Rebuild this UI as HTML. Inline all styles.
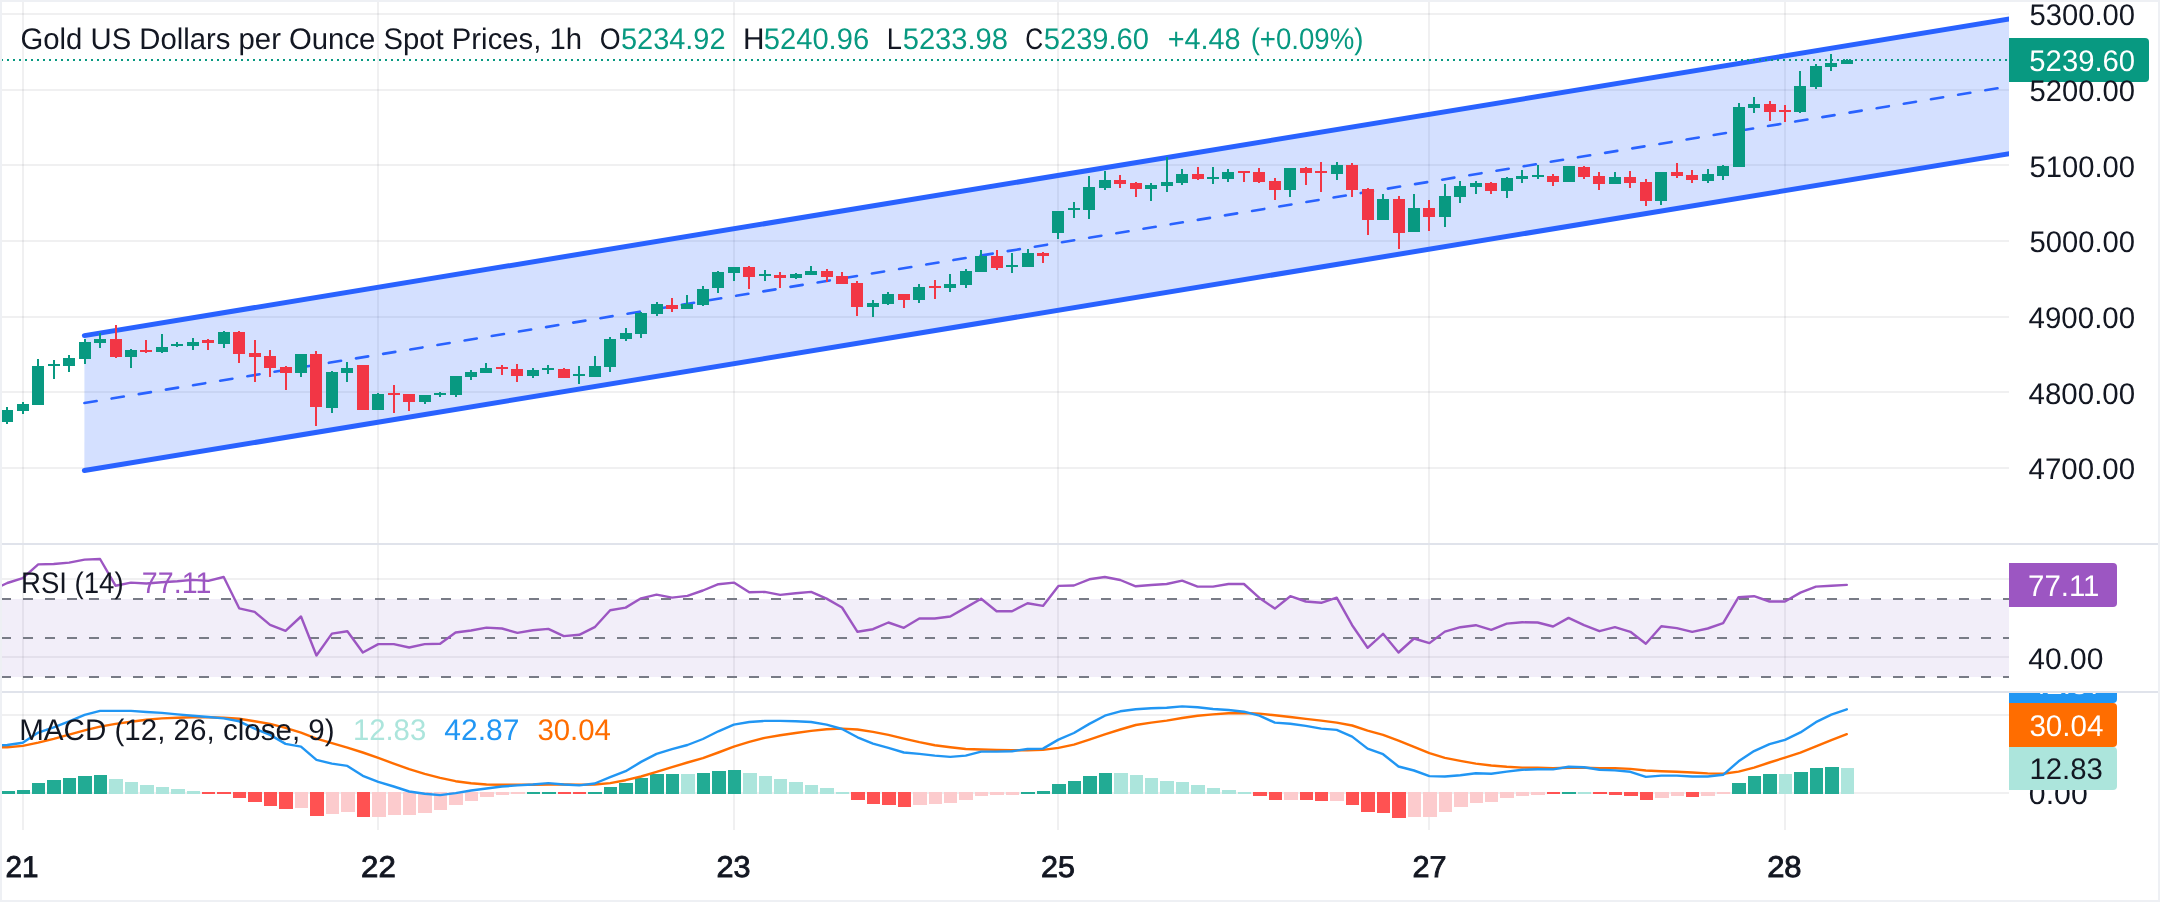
<!DOCTYPE html>
<html><head><meta charset="utf-8"><title>Gold Spot 1h</title>
<style>
html,body{margin:0;padding:0;background:#fff;width:2160px;height:902px;overflow:hidden}
svg{display:block;font-family:'Liberation Sans', sans-serif;will-change:transform;text-rendering:geometricPrecision}
</style></head>
<body>
<svg width="2160" height="902" viewBox="0 0 2160 902">
<rect x="0" y="0" width="2160" height="902" fill="#FFFFFF"/>
<rect x="2" y="13" width="2007" height="2" fill="rgba(42,46,57,0.07)"/>
<rect x="2" y="89" width="2007" height="2" fill="rgba(42,46,57,0.07)"/>
<rect x="2" y="164" width="2007" height="2" fill="rgba(42,46,57,0.07)"/>
<rect x="2" y="240" width="2007" height="2" fill="rgba(42,46,57,0.07)"/>
<rect x="2" y="316" width="2007" height="2" fill="rgba(42,46,57,0.07)"/>
<rect x="2" y="391" width="2007" height="2" fill="rgba(42,46,57,0.07)"/>
<rect x="2" y="467" width="2007" height="2" fill="rgba(42,46,57,0.07)"/>
<rect x="2" y="578" width="2007" height="2" fill="rgba(42,46,57,0.07)"/>
<rect x="2" y="656" width="2007" height="2" fill="rgba(42,46,57,0.07)"/>
<rect x="2" y="714" width="2007" height="2" fill="rgba(42,46,57,0.07)"/>
<rect x="2" y="792" width="2007" height="2" fill="rgba(42,46,57,0.07)"/>
<rect x="22" y="2" width="2" height="828" fill="rgba(42,46,57,0.07)"/>
<rect x="377" y="2" width="2" height="828" fill="rgba(42,46,57,0.07)"/>
<rect x="733" y="2" width="2" height="828" fill="rgba(42,46,57,0.07)"/>
<rect x="1057" y="2" width="2" height="828" fill="rgba(42,46,57,0.07)"/>
<rect x="1428" y="2" width="2" height="828" fill="rgba(42,46,57,0.07)"/>
<rect x="1784" y="2" width="2" height="828" fill="rgba(42,46,57,0.07)"/>
<polygon points="84.4,335.6 2009.0,19.0 2009.0,153.8 84.4,470.5" fill="rgba(41,98,255,0.2)"/>
<defs><clipPath id="cp"><rect x="0" y="2" width="2009" height="541"/></clipPath></defs>
<g clip-path="url(#cp)">
<line x1="84.4" y1="335.6" x2="2020" y2="17.19" stroke="#2962FF" stroke-width="5" stroke-linecap="round"/>
<line x1="84.4" y1="470.5" x2="2020" y2="151.99" stroke="#2962FF" stroke-width="5" stroke-linecap="round"/>
<line x1="84.4" y1="403.05" x2="2020" y2="84.59" stroke="#2962FF" stroke-width="2.6" stroke-linecap="round" stroke-dasharray="12.4 15.12"/>
</g>
<g shape-rendering="crispEdges">
<rect x="6" y="407" width="2" height="17" fill="#089981"/>
<rect x="1" y="410" width="12" height="12" fill="#089981"/>
<rect x="22" y="402" width="2" height="12" fill="#089981"/>
<rect x="17" y="404" width="12" height="7" fill="#089981"/>
<rect x="37" y="359" width="2" height="46" fill="#089981"/>
<rect x="32" y="366" width="12" height="39" fill="#089981"/>
<rect x="53" y="360" width="2" height="19" fill="#089981"/>
<rect x="48" y="364" width="12" height="2" fill="#089981"/>
<rect x="68" y="355" width="2" height="17" fill="#089981"/>
<rect x="63" y="358" width="12" height="8" fill="#089981"/>
<rect x="84" y="339" width="2" height="25" fill="#089981"/>
<rect x="79" y="342" width="12" height="17" fill="#089981"/>
<rect x="99" y="333" width="2" height="15" fill="#089981"/>
<rect x="94" y="339" width="12" height="4" fill="#089981"/>
<rect x="115" y="325" width="2" height="33" fill="#F23645"/>
<rect x="110" y="339" width="12" height="18" fill="#F23645"/>
<rect x="130" y="349" width="2" height="19" fill="#089981"/>
<rect x="125" y="350" width="12" height="7" fill="#089981"/>
<rect x="145" y="340" width="2" height="13" fill="#F23645"/>
<rect x="140" y="350" width="12" height="2" fill="#F23645"/>
<rect x="161" y="334" width="2" height="19" fill="#089981"/>
<rect x="156" y="347" width="12" height="5" fill="#089981"/>
<rect x="176" y="342" width="2" height="5" fill="#089981"/>
<rect x="171" y="344" width="12" height="2" fill="#089981"/>
<rect x="192" y="338" width="2" height="12" fill="#089981"/>
<rect x="187" y="342" width="12" height="4" fill="#089981"/>
<rect x="207" y="339" width="2" height="11" fill="#F23645"/>
<rect x="202" y="340" width="12" height="3" fill="#F23645"/>
<rect x="223" y="331" width="2" height="17" fill="#089981"/>
<rect x="218" y="332" width="12" height="12" fill="#089981"/>
<rect x="238" y="331" width="2" height="32" fill="#F23645"/>
<rect x="233" y="332" width="12" height="22" fill="#F23645"/>
<rect x="254" y="340" width="2" height="42" fill="#F23645"/>
<rect x="249" y="353" width="12" height="4" fill="#F23645"/>
<rect x="269" y="350" width="2" height="27" fill="#F23645"/>
<rect x="264" y="356" width="12" height="12" fill="#F23645"/>
<rect x="285" y="366" width="2" height="24" fill="#F23645"/>
<rect x="280" y="367" width="12" height="6" fill="#F23645"/>
<rect x="300" y="354" width="2" height="23" fill="#089981"/>
<rect x="295" y="354" width="12" height="19" fill="#089981"/>
<rect x="315" y="351" width="2" height="75" fill="#F23645"/>
<rect x="310" y="354" width="12" height="53" fill="#F23645"/>
<rect x="331" y="371" width="2" height="42" fill="#089981"/>
<rect x="326" y="372" width="12" height="36" fill="#089981"/>
<rect x="346" y="362" width="2" height="20" fill="#089981"/>
<rect x="341" y="368" width="12" height="5" fill="#089981"/>
<rect x="362" y="365" width="2" height="45" fill="#F23645"/>
<rect x="357" y="365" width="12" height="45" fill="#F23645"/>
<rect x="377" y="393" width="2" height="17" fill="#089981"/>
<rect x="372" y="394" width="12" height="16" fill="#089981"/>
<rect x="393" y="385" width="2" height="28" fill="#F23645"/>
<rect x="388" y="393" width="12" height="2" fill="#F23645"/>
<rect x="408" y="394" width="2" height="17" fill="#F23645"/>
<rect x="403" y="394" width="12" height="8" fill="#F23645"/>
<rect x="424" y="395" width="2" height="9" fill="#089981"/>
<rect x="419" y="395" width="12" height="7" fill="#089981"/>
<rect x="439" y="392" width="2" height="5" fill="#089981"/>
<rect x="434" y="393" width="12" height="2" fill="#089981"/>
<rect x="455" y="376" width="2" height="21" fill="#089981"/>
<rect x="450" y="376" width="12" height="19" fill="#089981"/>
<rect x="470" y="370" width="2" height="10" fill="#089981"/>
<rect x="465" y="372" width="12" height="5" fill="#089981"/>
<rect x="485" y="363" width="2" height="10" fill="#089981"/>
<rect x="480" y="368" width="12" height="5" fill="#089981"/>
<rect x="501" y="365" width="2" height="10" fill="#F23645"/>
<rect x="496" y="367" width="12" height="2" fill="#F23645"/>
<rect x="516" y="364" width="2" height="18" fill="#F23645"/>
<rect x="511" y="369" width="12" height="7" fill="#F23645"/>
<rect x="532" y="368" width="2" height="10" fill="#089981"/>
<rect x="527" y="370" width="12" height="6" fill="#089981"/>
<rect x="547" y="365" width="2" height="9" fill="#089981"/>
<rect x="542" y="368" width="12" height="2" fill="#089981"/>
<rect x="563" y="368" width="2" height="10" fill="#F23645"/>
<rect x="558" y="369" width="12" height="9" fill="#F23645"/>
<rect x="578" y="366" width="2" height="18" fill="#089981"/>
<rect x="573" y="374" width="12" height="2" fill="#089981"/>
<rect x="594" y="356" width="2" height="21" fill="#089981"/>
<rect x="589" y="366" width="12" height="11" fill="#089981"/>
<rect x="609" y="337" width="2" height="35" fill="#089981"/>
<rect x="604" y="339" width="12" height="28" fill="#089981"/>
<rect x="625" y="328" width="2" height="13" fill="#089981"/>
<rect x="620" y="333" width="12" height="6" fill="#089981"/>
<rect x="640" y="312" width="2" height="26" fill="#089981"/>
<rect x="635" y="313" width="12" height="21" fill="#089981"/>
<rect x="656" y="302" width="2" height="14" fill="#089981"/>
<rect x="651" y="304" width="12" height="10" fill="#089981"/>
<rect x="671" y="298" width="2" height="14" fill="#F23645"/>
<rect x="666" y="305" width="12" height="4" fill="#F23645"/>
<rect x="686" y="295" width="2" height="14" fill="#089981"/>
<rect x="681" y="304" width="12" height="5" fill="#089981"/>
<rect x="702" y="286" width="2" height="20" fill="#089981"/>
<rect x="697" y="289" width="12" height="16" fill="#089981"/>
<rect x="717" y="271" width="2" height="22" fill="#089981"/>
<rect x="712" y="272" width="12" height="16" fill="#089981"/>
<rect x="733" y="267" width="2" height="14" fill="#089981"/>
<rect x="728" y="267" width="12" height="6" fill="#089981"/>
<rect x="748" y="266" width="2" height="23" fill="#F23645"/>
<rect x="743" y="267" width="12" height="10" fill="#F23645"/>
<rect x="764" y="270" width="2" height="11" fill="#089981"/>
<rect x="759" y="274" width="12" height="2" fill="#089981"/>
<rect x="779" y="272" width="2" height="16" fill="#F23645"/>
<rect x="774" y="275" width="12" height="3" fill="#F23645"/>
<rect x="795" y="273" width="2" height="6" fill="#089981"/>
<rect x="790" y="274" width="12" height="4" fill="#089981"/>
<rect x="810" y="266" width="2" height="9" fill="#089981"/>
<rect x="805" y="271" width="12" height="4" fill="#089981"/>
<rect x="826" y="269" width="2" height="13" fill="#F23645"/>
<rect x="821" y="271" width="12" height="6" fill="#F23645"/>
<rect x="841" y="272" width="2" height="12" fill="#F23645"/>
<rect x="836" y="276" width="12" height="8" fill="#F23645"/>
<rect x="856" y="281" width="2" height="35" fill="#F23645"/>
<rect x="851" y="283" width="12" height="24" fill="#F23645"/>
<rect x="872" y="300" width="2" height="17" fill="#089981"/>
<rect x="867" y="303" width="12" height="4" fill="#089981"/>
<rect x="887" y="292" width="2" height="13" fill="#089981"/>
<rect x="882" y="294" width="12" height="10" fill="#089981"/>
<rect x="903" y="294" width="2" height="14" fill="#F23645"/>
<rect x="898" y="294" width="12" height="6" fill="#F23645"/>
<rect x="918" y="284" width="2" height="19" fill="#089981"/>
<rect x="913" y="287" width="12" height="13" fill="#089981"/>
<rect x="934" y="280" width="2" height="19" fill="#F23645"/>
<rect x="929" y="286" width="12" height="2" fill="#F23645"/>
<rect x="949" y="274" width="2" height="18" fill="#089981"/>
<rect x="944" y="284" width="12" height="4" fill="#089981"/>
<rect x="965" y="269" width="2" height="19" fill="#089981"/>
<rect x="960" y="271" width="12" height="14" fill="#089981"/>
<rect x="980" y="250" width="2" height="22" fill="#089981"/>
<rect x="975" y="256" width="12" height="16" fill="#089981"/>
<rect x="996" y="250" width="2" height="20" fill="#F23645"/>
<rect x="991" y="256" width="12" height="12" fill="#F23645"/>
<rect x="1011" y="253" width="2" height="20" fill="#089981"/>
<rect x="1006" y="265" width="12" height="2" fill="#089981"/>
<rect x="1027" y="249" width="2" height="18" fill="#089981"/>
<rect x="1022" y="253" width="12" height="14" fill="#089981"/>
<rect x="1042" y="252" width="2" height="11" fill="#F23645"/>
<rect x="1037" y="253" width="12" height="3" fill="#F23645"/>
<rect x="1057" y="211" width="2" height="28" fill="#089981"/>
<rect x="1052" y="211" width="12" height="22" fill="#089981"/>
<rect x="1073" y="202" width="2" height="16" fill="#089981"/>
<rect x="1068" y="208" width="12" height="2" fill="#089981"/>
<rect x="1088" y="176" width="2" height="43" fill="#089981"/>
<rect x="1083" y="187" width="12" height="23" fill="#089981"/>
<rect x="1104" y="171" width="2" height="19" fill="#089981"/>
<rect x="1099" y="180" width="12" height="8" fill="#089981"/>
<rect x="1119" y="175" width="2" height="13" fill="#F23645"/>
<rect x="1114" y="180" width="12" height="4" fill="#F23645"/>
<rect x="1135" y="182" width="2" height="15" fill="#F23645"/>
<rect x="1130" y="183" width="12" height="6" fill="#F23645"/>
<rect x="1150" y="183" width="2" height="18" fill="#089981"/>
<rect x="1145" y="185" width="12" height="4" fill="#089981"/>
<rect x="1166" y="157" width="2" height="35" fill="#089981"/>
<rect x="1161" y="182" width="12" height="4" fill="#089981"/>
<rect x="1181" y="169" width="2" height="16" fill="#089981"/>
<rect x="1176" y="174" width="12" height="9" fill="#089981"/>
<rect x="1197" y="167" width="2" height="13" fill="#F23645"/>
<rect x="1192" y="174" width="12" height="5" fill="#F23645"/>
<rect x="1212" y="167" width="2" height="17" fill="#089981"/>
<rect x="1207" y="177" width="12" height="2" fill="#089981"/>
<rect x="1227" y="169" width="2" height="13" fill="#089981"/>
<rect x="1222" y="172" width="12" height="7" fill="#089981"/>
<rect x="1243" y="171" width="2" height="11" fill="#F23645"/>
<rect x="1238" y="171" width="12" height="2" fill="#F23645"/>
<rect x="1258" y="168" width="2" height="15" fill="#F23645"/>
<rect x="1253" y="172" width="12" height="10" fill="#F23645"/>
<rect x="1274" y="178" width="2" height="22" fill="#F23645"/>
<rect x="1269" y="181" width="12" height="9" fill="#F23645"/>
<rect x="1289" y="168" width="2" height="29" fill="#089981"/>
<rect x="1284" y="168" width="12" height="22" fill="#089981"/>
<rect x="1305" y="167" width="2" height="18" fill="#F23645"/>
<rect x="1300" y="168" width="12" height="5" fill="#F23645"/>
<rect x="1320" y="162" width="2" height="30" fill="#F23645"/>
<rect x="1315" y="171" width="12" height="2" fill="#F23645"/>
<rect x="1336" y="162" width="2" height="18" fill="#089981"/>
<rect x="1331" y="165" width="12" height="9" fill="#089981"/>
<rect x="1351" y="163" width="2" height="34" fill="#F23645"/>
<rect x="1346" y="165" width="12" height="25" fill="#F23645"/>
<rect x="1367" y="188" width="2" height="47" fill="#F23645"/>
<rect x="1362" y="189" width="12" height="31" fill="#F23645"/>
<rect x="1382" y="194" width="2" height="26" fill="#089981"/>
<rect x="1377" y="199" width="12" height="21" fill="#089981"/>
<rect x="1398" y="196" width="2" height="53" fill="#F23645"/>
<rect x="1393" y="199" width="12" height="34" fill="#F23645"/>
<rect x="1413" y="194" width="2" height="38" fill="#089981"/>
<rect x="1408" y="208" width="12" height="24" fill="#089981"/>
<rect x="1428" y="200" width="2" height="31" fill="#F23645"/>
<rect x="1423" y="208" width="12" height="9" fill="#F23645"/>
<rect x="1444" y="184" width="2" height="43" fill="#089981"/>
<rect x="1439" y="196" width="12" height="21" fill="#089981"/>
<rect x="1459" y="181" width="2" height="22" fill="#089981"/>
<rect x="1454" y="186" width="12" height="11" fill="#089981"/>
<rect x="1475" y="181" width="2" height="13" fill="#089981"/>
<rect x="1470" y="183" width="12" height="4" fill="#089981"/>
<rect x="1490" y="182" width="2" height="12" fill="#F23645"/>
<rect x="1485" y="183" width="12" height="8" fill="#F23645"/>
<rect x="1506" y="177" width="2" height="21" fill="#089981"/>
<rect x="1501" y="178" width="12" height="13" fill="#089981"/>
<rect x="1521" y="170" width="2" height="13" fill="#089981"/>
<rect x="1516" y="176" width="12" height="3" fill="#089981"/>
<rect x="1537" y="165" width="2" height="14" fill="#089981"/>
<rect x="1532" y="175" width="12" height="2" fill="#089981"/>
<rect x="1552" y="174" width="2" height="12" fill="#F23645"/>
<rect x="1547" y="176" width="12" height="6" fill="#F23645"/>
<rect x="1568" y="166" width="2" height="16" fill="#089981"/>
<rect x="1563" y="166" width="12" height="16" fill="#089981"/>
<rect x="1583" y="166" width="2" height="13" fill="#F23645"/>
<rect x="1578" y="167" width="12" height="10" fill="#F23645"/>
<rect x="1598" y="172" width="2" height="18" fill="#F23645"/>
<rect x="1593" y="176" width="12" height="8" fill="#F23645"/>
<rect x="1614" y="172" width="2" height="12" fill="#089981"/>
<rect x="1609" y="177" width="12" height="7" fill="#089981"/>
<rect x="1629" y="171" width="2" height="17" fill="#F23645"/>
<rect x="1624" y="177" width="12" height="6" fill="#F23645"/>
<rect x="1645" y="179" width="2" height="27" fill="#F23645"/>
<rect x="1640" y="182" width="12" height="19" fill="#F23645"/>
<rect x="1660" y="172" width="2" height="33" fill="#089981"/>
<rect x="1655" y="172" width="12" height="29" fill="#089981"/>
<rect x="1676" y="163" width="2" height="15" fill="#F23645"/>
<rect x="1671" y="172" width="12" height="4" fill="#F23645"/>
<rect x="1691" y="170" width="2" height="13" fill="#F23645"/>
<rect x="1686" y="175" width="12" height="5" fill="#F23645"/>
<rect x="1707" y="169" width="2" height="14" fill="#089981"/>
<rect x="1702" y="174" width="12" height="7" fill="#089981"/>
<rect x="1722" y="165" width="2" height="15" fill="#089981"/>
<rect x="1717" y="166" width="12" height="10" fill="#089981"/>
<rect x="1738" y="103" width="2" height="64" fill="#089981"/>
<rect x="1733" y="107" width="12" height="60" fill="#089981"/>
<rect x="1753" y="97" width="2" height="16" fill="#089981"/>
<rect x="1748" y="104" width="12" height="4" fill="#089981"/>
<rect x="1769" y="101" width="2" height="20" fill="#F23645"/>
<rect x="1764" y="104" width="12" height="8" fill="#F23645"/>
<rect x="1784" y="105" width="2" height="17" fill="#F23645"/>
<rect x="1779" y="110" width="12" height="2" fill="#F23645"/>
<rect x="1799" y="71" width="2" height="42" fill="#089981"/>
<rect x="1794" y="86" width="12" height="26" fill="#089981"/>
<rect x="1815" y="64" width="2" height="25" fill="#089981"/>
<rect x="1810" y="66" width="12" height="21" fill="#089981"/>
<rect x="1830" y="54" width="2" height="17" fill="#089981"/>
<rect x="1825" y="63" width="12" height="4" fill="#089981"/>
<rect x="1846" y="59" width="2" height="5" fill="#089981"/>
<rect x="1841" y="60" width="12" height="4" fill="#089981"/>
</g>
<g shape-rendering="crispEdges">
<rect x="2" y="59" width="1" height="2" fill="#089981"/>
<rect x="7" y="59" width="2" height="2" fill="#089981"/>
<rect x="13" y="59" width="2" height="2" fill="#089981"/>
<rect x="19" y="59" width="2" height="2" fill="#089981"/>
<rect x="25" y="59" width="2" height="2" fill="#089981"/>
<rect x="31" y="59" width="2" height="2" fill="#089981"/>
<rect x="37" y="59" width="2" height="2" fill="#089981"/>
<rect x="43" y="59" width="2" height="2" fill="#089981"/>
<rect x="49" y="59" width="2" height="2" fill="#089981"/>
<rect x="55" y="59" width="2" height="2" fill="#089981"/>
<rect x="61" y="59" width="2" height="2" fill="#089981"/>
<rect x="67" y="59" width="2" height="2" fill="#089981"/>
<rect x="73" y="59" width="2" height="2" fill="#089981"/>
<rect x="79" y="59" width="2" height="2" fill="#089981"/>
<rect x="85" y="59" width="2" height="2" fill="#089981"/>
<rect x="91" y="59" width="2" height="2" fill="#089981"/>
<rect x="97" y="59" width="2" height="2" fill="#089981"/>
<rect x="103" y="59" width="2" height="2" fill="#089981"/>
<rect x="109" y="59" width="2" height="2" fill="#089981"/>
<rect x="115" y="59" width="2" height="2" fill="#089981"/>
<rect x="121" y="59" width="2" height="2" fill="#089981"/>
<rect x="127" y="59" width="2" height="2" fill="#089981"/>
<rect x="133" y="59" width="2" height="2" fill="#089981"/>
<rect x="139" y="59" width="2" height="2" fill="#089981"/>
<rect x="145" y="59" width="2" height="2" fill="#089981"/>
<rect x="151" y="59" width="2" height="2" fill="#089981"/>
<rect x="157" y="59" width="2" height="2" fill="#089981"/>
<rect x="163" y="59" width="2" height="2" fill="#089981"/>
<rect x="169" y="59" width="2" height="2" fill="#089981"/>
<rect x="175" y="59" width="2" height="2" fill="#089981"/>
<rect x="181" y="59" width="2" height="2" fill="#089981"/>
<rect x="187" y="59" width="2" height="2" fill="#089981"/>
<rect x="193" y="59" width="2" height="2" fill="#089981"/>
<rect x="199" y="59" width="2" height="2" fill="#089981"/>
<rect x="205" y="59" width="2" height="2" fill="#089981"/>
<rect x="211" y="59" width="2" height="2" fill="#089981"/>
<rect x="217" y="59" width="2" height="2" fill="#089981"/>
<rect x="223" y="59" width="2" height="2" fill="#089981"/>
<rect x="229" y="59" width="2" height="2" fill="#089981"/>
<rect x="235" y="59" width="2" height="2" fill="#089981"/>
<rect x="241" y="59" width="2" height="2" fill="#089981"/>
<rect x="247" y="59" width="2" height="2" fill="#089981"/>
<rect x="253" y="59" width="2" height="2" fill="#089981"/>
<rect x="259" y="59" width="2" height="2" fill="#089981"/>
<rect x="265" y="59" width="2" height="2" fill="#089981"/>
<rect x="271" y="59" width="2" height="2" fill="#089981"/>
<rect x="277" y="59" width="2" height="2" fill="#089981"/>
<rect x="283" y="59" width="2" height="2" fill="#089981"/>
<rect x="289" y="59" width="2" height="2" fill="#089981"/>
<rect x="295" y="59" width="2" height="2" fill="#089981"/>
<rect x="301" y="59" width="2" height="2" fill="#089981"/>
<rect x="307" y="59" width="2" height="2" fill="#089981"/>
<rect x="313" y="59" width="2" height="2" fill="#089981"/>
<rect x="319" y="59" width="2" height="2" fill="#089981"/>
<rect x="325" y="59" width="2" height="2" fill="#089981"/>
<rect x="331" y="59" width="2" height="2" fill="#089981"/>
<rect x="337" y="59" width="2" height="2" fill="#089981"/>
<rect x="343" y="59" width="2" height="2" fill="#089981"/>
<rect x="349" y="59" width="2" height="2" fill="#089981"/>
<rect x="355" y="59" width="2" height="2" fill="#089981"/>
<rect x="361" y="59" width="2" height="2" fill="#089981"/>
<rect x="367" y="59" width="2" height="2" fill="#089981"/>
<rect x="373" y="59" width="2" height="2" fill="#089981"/>
<rect x="379" y="59" width="2" height="2" fill="#089981"/>
<rect x="385" y="59" width="2" height="2" fill="#089981"/>
<rect x="391" y="59" width="2" height="2" fill="#089981"/>
<rect x="397" y="59" width="2" height="2" fill="#089981"/>
<rect x="403" y="59" width="2" height="2" fill="#089981"/>
<rect x="409" y="59" width="2" height="2" fill="#089981"/>
<rect x="415" y="59" width="2" height="2" fill="#089981"/>
<rect x="421" y="59" width="2" height="2" fill="#089981"/>
<rect x="427" y="59" width="2" height="2" fill="#089981"/>
<rect x="433" y="59" width="2" height="2" fill="#089981"/>
<rect x="439" y="59" width="2" height="2" fill="#089981"/>
<rect x="445" y="59" width="2" height="2" fill="#089981"/>
<rect x="451" y="59" width="2" height="2" fill="#089981"/>
<rect x="457" y="59" width="2" height="2" fill="#089981"/>
<rect x="463" y="59" width="2" height="2" fill="#089981"/>
<rect x="469" y="59" width="2" height="2" fill="#089981"/>
<rect x="475" y="59" width="2" height="2" fill="#089981"/>
<rect x="481" y="59" width="2" height="2" fill="#089981"/>
<rect x="487" y="59" width="2" height="2" fill="#089981"/>
<rect x="493" y="59" width="2" height="2" fill="#089981"/>
<rect x="499" y="59" width="2" height="2" fill="#089981"/>
<rect x="505" y="59" width="2" height="2" fill="#089981"/>
<rect x="511" y="59" width="2" height="2" fill="#089981"/>
<rect x="517" y="59" width="2" height="2" fill="#089981"/>
<rect x="523" y="59" width="2" height="2" fill="#089981"/>
<rect x="529" y="59" width="2" height="2" fill="#089981"/>
<rect x="535" y="59" width="2" height="2" fill="#089981"/>
<rect x="541" y="59" width="2" height="2" fill="#089981"/>
<rect x="547" y="59" width="2" height="2" fill="#089981"/>
<rect x="553" y="59" width="2" height="2" fill="#089981"/>
<rect x="559" y="59" width="2" height="2" fill="#089981"/>
<rect x="565" y="59" width="2" height="2" fill="#089981"/>
<rect x="571" y="59" width="2" height="2" fill="#089981"/>
<rect x="577" y="59" width="2" height="2" fill="#089981"/>
<rect x="583" y="59" width="2" height="2" fill="#089981"/>
<rect x="589" y="59" width="2" height="2" fill="#089981"/>
<rect x="595" y="59" width="2" height="2" fill="#089981"/>
<rect x="601" y="59" width="2" height="2" fill="#089981"/>
<rect x="607" y="59" width="2" height="2" fill="#089981"/>
<rect x="613" y="59" width="2" height="2" fill="#089981"/>
<rect x="619" y="59" width="2" height="2" fill="#089981"/>
<rect x="625" y="59" width="2" height="2" fill="#089981"/>
<rect x="631" y="59" width="2" height="2" fill="#089981"/>
<rect x="637" y="59" width="2" height="2" fill="#089981"/>
<rect x="643" y="59" width="2" height="2" fill="#089981"/>
<rect x="649" y="59" width="2" height="2" fill="#089981"/>
<rect x="655" y="59" width="2" height="2" fill="#089981"/>
<rect x="661" y="59" width="2" height="2" fill="#089981"/>
<rect x="667" y="59" width="2" height="2" fill="#089981"/>
<rect x="673" y="59" width="2" height="2" fill="#089981"/>
<rect x="679" y="59" width="2" height="2" fill="#089981"/>
<rect x="685" y="59" width="2" height="2" fill="#089981"/>
<rect x="691" y="59" width="2" height="2" fill="#089981"/>
<rect x="697" y="59" width="2" height="2" fill="#089981"/>
<rect x="703" y="59" width="2" height="2" fill="#089981"/>
<rect x="709" y="59" width="2" height="2" fill="#089981"/>
<rect x="715" y="59" width="2" height="2" fill="#089981"/>
<rect x="721" y="59" width="2" height="2" fill="#089981"/>
<rect x="727" y="59" width="2" height="2" fill="#089981"/>
<rect x="733" y="59" width="2" height="2" fill="#089981"/>
<rect x="739" y="59" width="2" height="2" fill="#089981"/>
<rect x="745" y="59" width="2" height="2" fill="#089981"/>
<rect x="751" y="59" width="2" height="2" fill="#089981"/>
<rect x="757" y="59" width="2" height="2" fill="#089981"/>
<rect x="763" y="59" width="2" height="2" fill="#089981"/>
<rect x="769" y="59" width="2" height="2" fill="#089981"/>
<rect x="775" y="59" width="2" height="2" fill="#089981"/>
<rect x="781" y="59" width="2" height="2" fill="#089981"/>
<rect x="787" y="59" width="2" height="2" fill="#089981"/>
<rect x="793" y="59" width="2" height="2" fill="#089981"/>
<rect x="799" y="59" width="2" height="2" fill="#089981"/>
<rect x="805" y="59" width="2" height="2" fill="#089981"/>
<rect x="811" y="59" width="2" height="2" fill="#089981"/>
<rect x="817" y="59" width="2" height="2" fill="#089981"/>
<rect x="823" y="59" width="2" height="2" fill="#089981"/>
<rect x="829" y="59" width="2" height="2" fill="#089981"/>
<rect x="835" y="59" width="2" height="2" fill="#089981"/>
<rect x="841" y="59" width="2" height="2" fill="#089981"/>
<rect x="847" y="59" width="2" height="2" fill="#089981"/>
<rect x="853" y="59" width="2" height="2" fill="#089981"/>
<rect x="859" y="59" width="2" height="2" fill="#089981"/>
<rect x="865" y="59" width="2" height="2" fill="#089981"/>
<rect x="871" y="59" width="2" height="2" fill="#089981"/>
<rect x="877" y="59" width="2" height="2" fill="#089981"/>
<rect x="883" y="59" width="2" height="2" fill="#089981"/>
<rect x="889" y="59" width="2" height="2" fill="#089981"/>
<rect x="895" y="59" width="2" height="2" fill="#089981"/>
<rect x="901" y="59" width="2" height="2" fill="#089981"/>
<rect x="907" y="59" width="2" height="2" fill="#089981"/>
<rect x="913" y="59" width="2" height="2" fill="#089981"/>
<rect x="919" y="59" width="2" height="2" fill="#089981"/>
<rect x="925" y="59" width="2" height="2" fill="#089981"/>
<rect x="931" y="59" width="2" height="2" fill="#089981"/>
<rect x="937" y="59" width="2" height="2" fill="#089981"/>
<rect x="943" y="59" width="2" height="2" fill="#089981"/>
<rect x="949" y="59" width="2" height="2" fill="#089981"/>
<rect x="955" y="59" width="2" height="2" fill="#089981"/>
<rect x="961" y="59" width="2" height="2" fill="#089981"/>
<rect x="967" y="59" width="2" height="2" fill="#089981"/>
<rect x="973" y="59" width="2" height="2" fill="#089981"/>
<rect x="979" y="59" width="2" height="2" fill="#089981"/>
<rect x="985" y="59" width="2" height="2" fill="#089981"/>
<rect x="991" y="59" width="2" height="2" fill="#089981"/>
<rect x="997" y="59" width="2" height="2" fill="#089981"/>
<rect x="1003" y="59" width="2" height="2" fill="#089981"/>
<rect x="1009" y="59" width="2" height="2" fill="#089981"/>
<rect x="1015" y="59" width="2" height="2" fill="#089981"/>
<rect x="1021" y="59" width="2" height="2" fill="#089981"/>
<rect x="1027" y="59" width="2" height="2" fill="#089981"/>
<rect x="1033" y="59" width="2" height="2" fill="#089981"/>
<rect x="1039" y="59" width="2" height="2" fill="#089981"/>
<rect x="1045" y="59" width="2" height="2" fill="#089981"/>
<rect x="1051" y="59" width="2" height="2" fill="#089981"/>
<rect x="1057" y="59" width="2" height="2" fill="#089981"/>
<rect x="1063" y="59" width="2" height="2" fill="#089981"/>
<rect x="1069" y="59" width="2" height="2" fill="#089981"/>
<rect x="1075" y="59" width="2" height="2" fill="#089981"/>
<rect x="1081" y="59" width="2" height="2" fill="#089981"/>
<rect x="1087" y="59" width="2" height="2" fill="#089981"/>
<rect x="1093" y="59" width="2" height="2" fill="#089981"/>
<rect x="1099" y="59" width="2" height="2" fill="#089981"/>
<rect x="1105" y="59" width="2" height="2" fill="#089981"/>
<rect x="1111" y="59" width="2" height="2" fill="#089981"/>
<rect x="1117" y="59" width="2" height="2" fill="#089981"/>
<rect x="1123" y="59" width="2" height="2" fill="#089981"/>
<rect x="1129" y="59" width="2" height="2" fill="#089981"/>
<rect x="1135" y="59" width="2" height="2" fill="#089981"/>
<rect x="1141" y="59" width="2" height="2" fill="#089981"/>
<rect x="1147" y="59" width="2" height="2" fill="#089981"/>
<rect x="1153" y="59" width="2" height="2" fill="#089981"/>
<rect x="1159" y="59" width="2" height="2" fill="#089981"/>
<rect x="1165" y="59" width="2" height="2" fill="#089981"/>
<rect x="1171" y="59" width="2" height="2" fill="#089981"/>
<rect x="1177" y="59" width="2" height="2" fill="#089981"/>
<rect x="1183" y="59" width="2" height="2" fill="#089981"/>
<rect x="1189" y="59" width="2" height="2" fill="#089981"/>
<rect x="1195" y="59" width="2" height="2" fill="#089981"/>
<rect x="1201" y="59" width="2" height="2" fill="#089981"/>
<rect x="1207" y="59" width="2" height="2" fill="#089981"/>
<rect x="1213" y="59" width="2" height="2" fill="#089981"/>
<rect x="1219" y="59" width="2" height="2" fill="#089981"/>
<rect x="1225" y="59" width="2" height="2" fill="#089981"/>
<rect x="1231" y="59" width="2" height="2" fill="#089981"/>
<rect x="1237" y="59" width="2" height="2" fill="#089981"/>
<rect x="1243" y="59" width="2" height="2" fill="#089981"/>
<rect x="1249" y="59" width="2" height="2" fill="#089981"/>
<rect x="1255" y="59" width="2" height="2" fill="#089981"/>
<rect x="1261" y="59" width="2" height="2" fill="#089981"/>
<rect x="1267" y="59" width="2" height="2" fill="#089981"/>
<rect x="1273" y="59" width="2" height="2" fill="#089981"/>
<rect x="1279" y="59" width="2" height="2" fill="#089981"/>
<rect x="1285" y="59" width="2" height="2" fill="#089981"/>
<rect x="1291" y="59" width="2" height="2" fill="#089981"/>
<rect x="1297" y="59" width="2" height="2" fill="#089981"/>
<rect x="1303" y="59" width="2" height="2" fill="#089981"/>
<rect x="1309" y="59" width="2" height="2" fill="#089981"/>
<rect x="1315" y="59" width="2" height="2" fill="#089981"/>
<rect x="1321" y="59" width="2" height="2" fill="#089981"/>
<rect x="1327" y="59" width="2" height="2" fill="#089981"/>
<rect x="1333" y="59" width="2" height="2" fill="#089981"/>
<rect x="1339" y="59" width="2" height="2" fill="#089981"/>
<rect x="1345" y="59" width="2" height="2" fill="#089981"/>
<rect x="1351" y="59" width="2" height="2" fill="#089981"/>
<rect x="1357" y="59" width="2" height="2" fill="#089981"/>
<rect x="1363" y="59" width="2" height="2" fill="#089981"/>
<rect x="1369" y="59" width="2" height="2" fill="#089981"/>
<rect x="1375" y="59" width="2" height="2" fill="#089981"/>
<rect x="1381" y="59" width="2" height="2" fill="#089981"/>
<rect x="1387" y="59" width="2" height="2" fill="#089981"/>
<rect x="1393" y="59" width="2" height="2" fill="#089981"/>
<rect x="1399" y="59" width="2" height="2" fill="#089981"/>
<rect x="1405" y="59" width="2" height="2" fill="#089981"/>
<rect x="1411" y="59" width="2" height="2" fill="#089981"/>
<rect x="1417" y="59" width="2" height="2" fill="#089981"/>
<rect x="1423" y="59" width="2" height="2" fill="#089981"/>
<rect x="1429" y="59" width="2" height="2" fill="#089981"/>
<rect x="1435" y="59" width="2" height="2" fill="#089981"/>
<rect x="1441" y="59" width="2" height="2" fill="#089981"/>
<rect x="1447" y="59" width="2" height="2" fill="#089981"/>
<rect x="1453" y="59" width="2" height="2" fill="#089981"/>
<rect x="1459" y="59" width="2" height="2" fill="#089981"/>
<rect x="1465" y="59" width="2" height="2" fill="#089981"/>
<rect x="1471" y="59" width="2" height="2" fill="#089981"/>
<rect x="1477" y="59" width="2" height="2" fill="#089981"/>
<rect x="1483" y="59" width="2" height="2" fill="#089981"/>
<rect x="1489" y="59" width="2" height="2" fill="#089981"/>
<rect x="1495" y="59" width="2" height="2" fill="#089981"/>
<rect x="1501" y="59" width="2" height="2" fill="#089981"/>
<rect x="1507" y="59" width="2" height="2" fill="#089981"/>
<rect x="1513" y="59" width="2" height="2" fill="#089981"/>
<rect x="1519" y="59" width="2" height="2" fill="#089981"/>
<rect x="1525" y="59" width="2" height="2" fill="#089981"/>
<rect x="1531" y="59" width="2" height="2" fill="#089981"/>
<rect x="1537" y="59" width="2" height="2" fill="#089981"/>
<rect x="1543" y="59" width="2" height="2" fill="#089981"/>
<rect x="1549" y="59" width="2" height="2" fill="#089981"/>
<rect x="1555" y="59" width="2" height="2" fill="#089981"/>
<rect x="1561" y="59" width="2" height="2" fill="#089981"/>
<rect x="1567" y="59" width="2" height="2" fill="#089981"/>
<rect x="1573" y="59" width="2" height="2" fill="#089981"/>
<rect x="1579" y="59" width="2" height="2" fill="#089981"/>
<rect x="1585" y="59" width="2" height="2" fill="#089981"/>
<rect x="1591" y="59" width="2" height="2" fill="#089981"/>
<rect x="1597" y="59" width="2" height="2" fill="#089981"/>
<rect x="1603" y="59" width="2" height="2" fill="#089981"/>
<rect x="1609" y="59" width="2" height="2" fill="#089981"/>
<rect x="1615" y="59" width="2" height="2" fill="#089981"/>
<rect x="1621" y="59" width="2" height="2" fill="#089981"/>
<rect x="1627" y="59" width="2" height="2" fill="#089981"/>
<rect x="1633" y="59" width="2" height="2" fill="#089981"/>
<rect x="1639" y="59" width="2" height="2" fill="#089981"/>
<rect x="1645" y="59" width="2" height="2" fill="#089981"/>
<rect x="1651" y="59" width="2" height="2" fill="#089981"/>
<rect x="1657" y="59" width="2" height="2" fill="#089981"/>
<rect x="1663" y="59" width="2" height="2" fill="#089981"/>
<rect x="1669" y="59" width="2" height="2" fill="#089981"/>
<rect x="1675" y="59" width="2" height="2" fill="#089981"/>
<rect x="1681" y="59" width="2" height="2" fill="#089981"/>
<rect x="1687" y="59" width="2" height="2" fill="#089981"/>
<rect x="1693" y="59" width="2" height="2" fill="#089981"/>
<rect x="1699" y="59" width="2" height="2" fill="#089981"/>
<rect x="1705" y="59" width="2" height="2" fill="#089981"/>
<rect x="1711" y="59" width="2" height="2" fill="#089981"/>
<rect x="1717" y="59" width="2" height="2" fill="#089981"/>
<rect x="1723" y="59" width="2" height="2" fill="#089981"/>
<rect x="1729" y="59" width="2" height="2" fill="#089981"/>
<rect x="1735" y="59" width="2" height="2" fill="#089981"/>
<rect x="1741" y="59" width="2" height="2" fill="#089981"/>
<rect x="1747" y="59" width="2" height="2" fill="#089981"/>
<rect x="1753" y="59" width="2" height="2" fill="#089981"/>
<rect x="1759" y="59" width="2" height="2" fill="#089981"/>
<rect x="1765" y="59" width="2" height="2" fill="#089981"/>
<rect x="1771" y="59" width="2" height="2" fill="#089981"/>
<rect x="1777" y="59" width="2" height="2" fill="#089981"/>
<rect x="1783" y="59" width="2" height="2" fill="#089981"/>
<rect x="1789" y="59" width="2" height="2" fill="#089981"/>
<rect x="1795" y="59" width="2" height="2" fill="#089981"/>
<rect x="1801" y="59" width="2" height="2" fill="#089981"/>
<rect x="1807" y="59" width="2" height="2" fill="#089981"/>
<rect x="1813" y="59" width="2" height="2" fill="#089981"/>
<rect x="1819" y="59" width="2" height="2" fill="#089981"/>
<rect x="1825" y="59" width="2" height="2" fill="#089981"/>
<rect x="1831" y="59" width="2" height="2" fill="#089981"/>
<rect x="1837" y="59" width="2" height="2" fill="#089981"/>
<rect x="1843" y="59" width="2" height="2" fill="#089981"/>
<rect x="1849" y="59" width="2" height="2" fill="#089981"/>
<rect x="1855" y="59" width="2" height="2" fill="#089981"/>
<rect x="1861" y="59" width="2" height="2" fill="#089981"/>
<rect x="1867" y="59" width="2" height="2" fill="#089981"/>
<rect x="1873" y="59" width="2" height="2" fill="#089981"/>
<rect x="1879" y="59" width="2" height="2" fill="#089981"/>
<rect x="1885" y="59" width="2" height="2" fill="#089981"/>
<rect x="1891" y="59" width="2" height="2" fill="#089981"/>
<rect x="1897" y="59" width="2" height="2" fill="#089981"/>
<rect x="1903" y="59" width="2" height="2" fill="#089981"/>
<rect x="1909" y="59" width="2" height="2" fill="#089981"/>
<rect x="1915" y="59" width="2" height="2" fill="#089981"/>
<rect x="1921" y="59" width="2" height="2" fill="#089981"/>
<rect x="1927" y="59" width="2" height="2" fill="#089981"/>
<rect x="1933" y="59" width="2" height="2" fill="#089981"/>
<rect x="1939" y="59" width="2" height="2" fill="#089981"/>
<rect x="1945" y="59" width="2" height="2" fill="#089981"/>
<rect x="1951" y="59" width="2" height="2" fill="#089981"/>
<rect x="1957" y="59" width="2" height="2" fill="#089981"/>
<rect x="1963" y="59" width="2" height="2" fill="#089981"/>
<rect x="1969" y="59" width="2" height="2" fill="#089981"/>
<rect x="1975" y="59" width="2" height="2" fill="#089981"/>
<rect x="1981" y="59" width="2" height="2" fill="#089981"/>
<rect x="1987" y="59" width="2" height="2" fill="#089981"/>
<rect x="1993" y="59" width="2" height="2" fill="#089981"/>
<rect x="1999" y="59" width="2" height="2" fill="#089981"/>
<rect x="2005" y="59" width="2" height="2" fill="#089981"/>
</g>
<rect x="2" y="599" width="2007" height="78" fill="rgba(126,87,194,0.1)"/>
<g shape-rendering="crispEdges">
<rect x="2" y="598" width="9" height="2" fill="#787B86"/>
<rect x="23" y="598" width="10" height="2" fill="#787B86"/>
<rect x="45" y="598" width="10" height="2" fill="#787B86"/>
<rect x="67" y="598" width="10" height="2" fill="#787B86"/>
<rect x="89" y="598" width="10" height="2" fill="#787B86"/>
<rect x="111" y="598" width="10" height="2" fill="#787B86"/>
<rect x="133" y="598" width="10" height="2" fill="#787B86"/>
<rect x="155" y="598" width="10" height="2" fill="#787B86"/>
<rect x="177" y="598" width="10" height="2" fill="#787B86"/>
<rect x="199" y="598" width="10" height="2" fill="#787B86"/>
<rect x="221" y="598" width="10" height="2" fill="#787B86"/>
<rect x="243" y="598" width="10" height="2" fill="#787B86"/>
<rect x="265" y="598" width="10" height="2" fill="#787B86"/>
<rect x="287" y="598" width="10" height="2" fill="#787B86"/>
<rect x="309" y="598" width="10" height="2" fill="#787B86"/>
<rect x="331" y="598" width="10" height="2" fill="#787B86"/>
<rect x="353" y="598" width="10" height="2" fill="#787B86"/>
<rect x="375" y="598" width="10" height="2" fill="#787B86"/>
<rect x="397" y="598" width="10" height="2" fill="#787B86"/>
<rect x="419" y="598" width="10" height="2" fill="#787B86"/>
<rect x="441" y="598" width="10" height="2" fill="#787B86"/>
<rect x="463" y="598" width="10" height="2" fill="#787B86"/>
<rect x="485" y="598" width="10" height="2" fill="#787B86"/>
<rect x="507" y="598" width="10" height="2" fill="#787B86"/>
<rect x="529" y="598" width="10" height="2" fill="#787B86"/>
<rect x="551" y="598" width="10" height="2" fill="#787B86"/>
<rect x="573" y="598" width="10" height="2" fill="#787B86"/>
<rect x="595" y="598" width="10" height="2" fill="#787B86"/>
<rect x="617" y="598" width="10" height="2" fill="#787B86"/>
<rect x="639" y="598" width="10" height="2" fill="#787B86"/>
<rect x="661" y="598" width="10" height="2" fill="#787B86"/>
<rect x="683" y="598" width="10" height="2" fill="#787B86"/>
<rect x="705" y="598" width="10" height="2" fill="#787B86"/>
<rect x="727" y="598" width="10" height="2" fill="#787B86"/>
<rect x="749" y="598" width="10" height="2" fill="#787B86"/>
<rect x="771" y="598" width="10" height="2" fill="#787B86"/>
<rect x="793" y="598" width="10" height="2" fill="#787B86"/>
<rect x="815" y="598" width="10" height="2" fill="#787B86"/>
<rect x="837" y="598" width="10" height="2" fill="#787B86"/>
<rect x="859" y="598" width="10" height="2" fill="#787B86"/>
<rect x="881" y="598" width="10" height="2" fill="#787B86"/>
<rect x="903" y="598" width="10" height="2" fill="#787B86"/>
<rect x="925" y="598" width="10" height="2" fill="#787B86"/>
<rect x="947" y="598" width="10" height="2" fill="#787B86"/>
<rect x="969" y="598" width="10" height="2" fill="#787B86"/>
<rect x="991" y="598" width="10" height="2" fill="#787B86"/>
<rect x="1013" y="598" width="10" height="2" fill="#787B86"/>
<rect x="1035" y="598" width="10" height="2" fill="#787B86"/>
<rect x="1057" y="598" width="10" height="2" fill="#787B86"/>
<rect x="1079" y="598" width="10" height="2" fill="#787B86"/>
<rect x="1101" y="598" width="10" height="2" fill="#787B86"/>
<rect x="1123" y="598" width="10" height="2" fill="#787B86"/>
<rect x="1145" y="598" width="10" height="2" fill="#787B86"/>
<rect x="1167" y="598" width="10" height="2" fill="#787B86"/>
<rect x="1189" y="598" width="10" height="2" fill="#787B86"/>
<rect x="1211" y="598" width="10" height="2" fill="#787B86"/>
<rect x="1233" y="598" width="10" height="2" fill="#787B86"/>
<rect x="1255" y="598" width="10" height="2" fill="#787B86"/>
<rect x="1277" y="598" width="10" height="2" fill="#787B86"/>
<rect x="1299" y="598" width="10" height="2" fill="#787B86"/>
<rect x="1321" y="598" width="10" height="2" fill="#787B86"/>
<rect x="1343" y="598" width="10" height="2" fill="#787B86"/>
<rect x="1365" y="598" width="10" height="2" fill="#787B86"/>
<rect x="1387" y="598" width="10" height="2" fill="#787B86"/>
<rect x="1409" y="598" width="10" height="2" fill="#787B86"/>
<rect x="1431" y="598" width="10" height="2" fill="#787B86"/>
<rect x="1453" y="598" width="10" height="2" fill="#787B86"/>
<rect x="1475" y="598" width="10" height="2" fill="#787B86"/>
<rect x="1497" y="598" width="10" height="2" fill="#787B86"/>
<rect x="1519" y="598" width="10" height="2" fill="#787B86"/>
<rect x="1541" y="598" width="10" height="2" fill="#787B86"/>
<rect x="1563" y="598" width="10" height="2" fill="#787B86"/>
<rect x="1585" y="598" width="10" height="2" fill="#787B86"/>
<rect x="1607" y="598" width="10" height="2" fill="#787B86"/>
<rect x="1629" y="598" width="10" height="2" fill="#787B86"/>
<rect x="1651" y="598" width="10" height="2" fill="#787B86"/>
<rect x="1673" y="598" width="10" height="2" fill="#787B86"/>
<rect x="1695" y="598" width="10" height="2" fill="#787B86"/>
<rect x="1717" y="598" width="10" height="2" fill="#787B86"/>
<rect x="1739" y="598" width="10" height="2" fill="#787B86"/>
<rect x="1761" y="598" width="10" height="2" fill="#787B86"/>
<rect x="1783" y="598" width="10" height="2" fill="#787B86"/>
<rect x="1805" y="598" width="10" height="2" fill="#787B86"/>
<rect x="1827" y="598" width="10" height="2" fill="#787B86"/>
<rect x="1849" y="598" width="10" height="2" fill="#787B86"/>
<rect x="1871" y="598" width="10" height="2" fill="#787B86"/>
<rect x="1893" y="598" width="10" height="2" fill="#787B86"/>
<rect x="1915" y="598" width="10" height="2" fill="#787B86"/>
<rect x="1937" y="598" width="10" height="2" fill="#787B86"/>
<rect x="1959" y="598" width="10" height="2" fill="#787B86"/>
<rect x="1981" y="598" width="10" height="2" fill="#787B86"/>
<rect x="2003" y="598" width="6" height="2" fill="#787B86"/>
<rect x="2" y="637" width="9" height="2" fill="#787B86"/>
<rect x="23" y="637" width="10" height="2" fill="#787B86"/>
<rect x="45" y="637" width="10" height="2" fill="#787B86"/>
<rect x="67" y="637" width="10" height="2" fill="#787B86"/>
<rect x="89" y="637" width="10" height="2" fill="#787B86"/>
<rect x="111" y="637" width="10" height="2" fill="#787B86"/>
<rect x="133" y="637" width="10" height="2" fill="#787B86"/>
<rect x="155" y="637" width="10" height="2" fill="#787B86"/>
<rect x="177" y="637" width="10" height="2" fill="#787B86"/>
<rect x="199" y="637" width="10" height="2" fill="#787B86"/>
<rect x="221" y="637" width="10" height="2" fill="#787B86"/>
<rect x="243" y="637" width="10" height="2" fill="#787B86"/>
<rect x="265" y="637" width="10" height="2" fill="#787B86"/>
<rect x="287" y="637" width="10" height="2" fill="#787B86"/>
<rect x="309" y="637" width="10" height="2" fill="#787B86"/>
<rect x="331" y="637" width="10" height="2" fill="#787B86"/>
<rect x="353" y="637" width="10" height="2" fill="#787B86"/>
<rect x="375" y="637" width="10" height="2" fill="#787B86"/>
<rect x="397" y="637" width="10" height="2" fill="#787B86"/>
<rect x="419" y="637" width="10" height="2" fill="#787B86"/>
<rect x="441" y="637" width="10" height="2" fill="#787B86"/>
<rect x="463" y="637" width="10" height="2" fill="#787B86"/>
<rect x="485" y="637" width="10" height="2" fill="#787B86"/>
<rect x="507" y="637" width="10" height="2" fill="#787B86"/>
<rect x="529" y="637" width="10" height="2" fill="#787B86"/>
<rect x="551" y="637" width="10" height="2" fill="#787B86"/>
<rect x="573" y="637" width="10" height="2" fill="#787B86"/>
<rect x="595" y="637" width="10" height="2" fill="#787B86"/>
<rect x="617" y="637" width="10" height="2" fill="#787B86"/>
<rect x="639" y="637" width="10" height="2" fill="#787B86"/>
<rect x="661" y="637" width="10" height="2" fill="#787B86"/>
<rect x="683" y="637" width="10" height="2" fill="#787B86"/>
<rect x="705" y="637" width="10" height="2" fill="#787B86"/>
<rect x="727" y="637" width="10" height="2" fill="#787B86"/>
<rect x="749" y="637" width="10" height="2" fill="#787B86"/>
<rect x="771" y="637" width="10" height="2" fill="#787B86"/>
<rect x="793" y="637" width="10" height="2" fill="#787B86"/>
<rect x="815" y="637" width="10" height="2" fill="#787B86"/>
<rect x="837" y="637" width="10" height="2" fill="#787B86"/>
<rect x="859" y="637" width="10" height="2" fill="#787B86"/>
<rect x="881" y="637" width="10" height="2" fill="#787B86"/>
<rect x="903" y="637" width="10" height="2" fill="#787B86"/>
<rect x="925" y="637" width="10" height="2" fill="#787B86"/>
<rect x="947" y="637" width="10" height="2" fill="#787B86"/>
<rect x="969" y="637" width="10" height="2" fill="#787B86"/>
<rect x="991" y="637" width="10" height="2" fill="#787B86"/>
<rect x="1013" y="637" width="10" height="2" fill="#787B86"/>
<rect x="1035" y="637" width="10" height="2" fill="#787B86"/>
<rect x="1057" y="637" width="10" height="2" fill="#787B86"/>
<rect x="1079" y="637" width="10" height="2" fill="#787B86"/>
<rect x="1101" y="637" width="10" height="2" fill="#787B86"/>
<rect x="1123" y="637" width="10" height="2" fill="#787B86"/>
<rect x="1145" y="637" width="10" height="2" fill="#787B86"/>
<rect x="1167" y="637" width="10" height="2" fill="#787B86"/>
<rect x="1189" y="637" width="10" height="2" fill="#787B86"/>
<rect x="1211" y="637" width="10" height="2" fill="#787B86"/>
<rect x="1233" y="637" width="10" height="2" fill="#787B86"/>
<rect x="1255" y="637" width="10" height="2" fill="#787B86"/>
<rect x="1277" y="637" width="10" height="2" fill="#787B86"/>
<rect x="1299" y="637" width="10" height="2" fill="#787B86"/>
<rect x="1321" y="637" width="10" height="2" fill="#787B86"/>
<rect x="1343" y="637" width="10" height="2" fill="#787B86"/>
<rect x="1365" y="637" width="10" height="2" fill="#787B86"/>
<rect x="1387" y="637" width="10" height="2" fill="#787B86"/>
<rect x="1409" y="637" width="10" height="2" fill="#787B86"/>
<rect x="1431" y="637" width="10" height="2" fill="#787B86"/>
<rect x="1453" y="637" width="10" height="2" fill="#787B86"/>
<rect x="1475" y="637" width="10" height="2" fill="#787B86"/>
<rect x="1497" y="637" width="10" height="2" fill="#787B86"/>
<rect x="1519" y="637" width="10" height="2" fill="#787B86"/>
<rect x="1541" y="637" width="10" height="2" fill="#787B86"/>
<rect x="1563" y="637" width="10" height="2" fill="#787B86"/>
<rect x="1585" y="637" width="10" height="2" fill="#787B86"/>
<rect x="1607" y="637" width="10" height="2" fill="#787B86"/>
<rect x="1629" y="637" width="10" height="2" fill="#787B86"/>
<rect x="1651" y="637" width="10" height="2" fill="#787B86"/>
<rect x="1673" y="637" width="10" height="2" fill="#787B86"/>
<rect x="1695" y="637" width="10" height="2" fill="#787B86"/>
<rect x="1717" y="637" width="10" height="2" fill="#787B86"/>
<rect x="1739" y="637" width="10" height="2" fill="#787B86"/>
<rect x="1761" y="637" width="10" height="2" fill="#787B86"/>
<rect x="1783" y="637" width="10" height="2" fill="#787B86"/>
<rect x="1805" y="637" width="10" height="2" fill="#787B86"/>
<rect x="1827" y="637" width="10" height="2" fill="#787B86"/>
<rect x="1849" y="637" width="10" height="2" fill="#787B86"/>
<rect x="1871" y="637" width="10" height="2" fill="#787B86"/>
<rect x="1893" y="637" width="10" height="2" fill="#787B86"/>
<rect x="1915" y="637" width="10" height="2" fill="#787B86"/>
<rect x="1937" y="637" width="10" height="2" fill="#787B86"/>
<rect x="1959" y="637" width="10" height="2" fill="#787B86"/>
<rect x="1981" y="637" width="10" height="2" fill="#787B86"/>
<rect x="2003" y="637" width="6" height="2" fill="#787B86"/>
<rect x="2" y="676" width="9" height="2" fill="#787B86"/>
<rect x="23" y="676" width="10" height="2" fill="#787B86"/>
<rect x="45" y="676" width="10" height="2" fill="#787B86"/>
<rect x="67" y="676" width="10" height="2" fill="#787B86"/>
<rect x="89" y="676" width="10" height="2" fill="#787B86"/>
<rect x="111" y="676" width="10" height="2" fill="#787B86"/>
<rect x="133" y="676" width="10" height="2" fill="#787B86"/>
<rect x="155" y="676" width="10" height="2" fill="#787B86"/>
<rect x="177" y="676" width="10" height="2" fill="#787B86"/>
<rect x="199" y="676" width="10" height="2" fill="#787B86"/>
<rect x="221" y="676" width="10" height="2" fill="#787B86"/>
<rect x="243" y="676" width="10" height="2" fill="#787B86"/>
<rect x="265" y="676" width="10" height="2" fill="#787B86"/>
<rect x="287" y="676" width="10" height="2" fill="#787B86"/>
<rect x="309" y="676" width="10" height="2" fill="#787B86"/>
<rect x="331" y="676" width="10" height="2" fill="#787B86"/>
<rect x="353" y="676" width="10" height="2" fill="#787B86"/>
<rect x="375" y="676" width="10" height="2" fill="#787B86"/>
<rect x="397" y="676" width="10" height="2" fill="#787B86"/>
<rect x="419" y="676" width="10" height="2" fill="#787B86"/>
<rect x="441" y="676" width="10" height="2" fill="#787B86"/>
<rect x="463" y="676" width="10" height="2" fill="#787B86"/>
<rect x="485" y="676" width="10" height="2" fill="#787B86"/>
<rect x="507" y="676" width="10" height="2" fill="#787B86"/>
<rect x="529" y="676" width="10" height="2" fill="#787B86"/>
<rect x="551" y="676" width="10" height="2" fill="#787B86"/>
<rect x="573" y="676" width="10" height="2" fill="#787B86"/>
<rect x="595" y="676" width="10" height="2" fill="#787B86"/>
<rect x="617" y="676" width="10" height="2" fill="#787B86"/>
<rect x="639" y="676" width="10" height="2" fill="#787B86"/>
<rect x="661" y="676" width="10" height="2" fill="#787B86"/>
<rect x="683" y="676" width="10" height="2" fill="#787B86"/>
<rect x="705" y="676" width="10" height="2" fill="#787B86"/>
<rect x="727" y="676" width="10" height="2" fill="#787B86"/>
<rect x="749" y="676" width="10" height="2" fill="#787B86"/>
<rect x="771" y="676" width="10" height="2" fill="#787B86"/>
<rect x="793" y="676" width="10" height="2" fill="#787B86"/>
<rect x="815" y="676" width="10" height="2" fill="#787B86"/>
<rect x="837" y="676" width="10" height="2" fill="#787B86"/>
<rect x="859" y="676" width="10" height="2" fill="#787B86"/>
<rect x="881" y="676" width="10" height="2" fill="#787B86"/>
<rect x="903" y="676" width="10" height="2" fill="#787B86"/>
<rect x="925" y="676" width="10" height="2" fill="#787B86"/>
<rect x="947" y="676" width="10" height="2" fill="#787B86"/>
<rect x="969" y="676" width="10" height="2" fill="#787B86"/>
<rect x="991" y="676" width="10" height="2" fill="#787B86"/>
<rect x="1013" y="676" width="10" height="2" fill="#787B86"/>
<rect x="1035" y="676" width="10" height="2" fill="#787B86"/>
<rect x="1057" y="676" width="10" height="2" fill="#787B86"/>
<rect x="1079" y="676" width="10" height="2" fill="#787B86"/>
<rect x="1101" y="676" width="10" height="2" fill="#787B86"/>
<rect x="1123" y="676" width="10" height="2" fill="#787B86"/>
<rect x="1145" y="676" width="10" height="2" fill="#787B86"/>
<rect x="1167" y="676" width="10" height="2" fill="#787B86"/>
<rect x="1189" y="676" width="10" height="2" fill="#787B86"/>
<rect x="1211" y="676" width="10" height="2" fill="#787B86"/>
<rect x="1233" y="676" width="10" height="2" fill="#787B86"/>
<rect x="1255" y="676" width="10" height="2" fill="#787B86"/>
<rect x="1277" y="676" width="10" height="2" fill="#787B86"/>
<rect x="1299" y="676" width="10" height="2" fill="#787B86"/>
<rect x="1321" y="676" width="10" height="2" fill="#787B86"/>
<rect x="1343" y="676" width="10" height="2" fill="#787B86"/>
<rect x="1365" y="676" width="10" height="2" fill="#787B86"/>
<rect x="1387" y="676" width="10" height="2" fill="#787B86"/>
<rect x="1409" y="676" width="10" height="2" fill="#787B86"/>
<rect x="1431" y="676" width="10" height="2" fill="#787B86"/>
<rect x="1453" y="676" width="10" height="2" fill="#787B86"/>
<rect x="1475" y="676" width="10" height="2" fill="#787B86"/>
<rect x="1497" y="676" width="10" height="2" fill="#787B86"/>
<rect x="1519" y="676" width="10" height="2" fill="#787B86"/>
<rect x="1541" y="676" width="10" height="2" fill="#787B86"/>
<rect x="1563" y="676" width="10" height="2" fill="#787B86"/>
<rect x="1585" y="676" width="10" height="2" fill="#787B86"/>
<rect x="1607" y="676" width="10" height="2" fill="#787B86"/>
<rect x="1629" y="676" width="10" height="2" fill="#787B86"/>
<rect x="1651" y="676" width="10" height="2" fill="#787B86"/>
<rect x="1673" y="676" width="10" height="2" fill="#787B86"/>
<rect x="1695" y="676" width="10" height="2" fill="#787B86"/>
<rect x="1717" y="676" width="10" height="2" fill="#787B86"/>
<rect x="1739" y="676" width="10" height="2" fill="#787B86"/>
<rect x="1761" y="676" width="10" height="2" fill="#787B86"/>
<rect x="1783" y="676" width="10" height="2" fill="#787B86"/>
<rect x="1805" y="676" width="10" height="2" fill="#787B86"/>
<rect x="1827" y="676" width="10" height="2" fill="#787B86"/>
<rect x="1849" y="676" width="10" height="2" fill="#787B86"/>
<rect x="1871" y="676" width="10" height="2" fill="#787B86"/>
<rect x="1893" y="676" width="10" height="2" fill="#787B86"/>
<rect x="1915" y="676" width="10" height="2" fill="#787B86"/>
<rect x="1937" y="676" width="10" height="2" fill="#787B86"/>
<rect x="1959" y="676" width="10" height="2" fill="#787B86"/>
<rect x="1981" y="676" width="10" height="2" fill="#787B86"/>
<rect x="2003" y="676" width="6" height="2" fill="#787B86"/>
</g>
<defs><clipPath id="cprsi"><rect x="2" y="545" width="2007" height="146"/></clipPath><clipPath id="cpmacd"><rect x="2" y="693" width="2007" height="137"/></clipPath></defs>
<g clip-path="url(#cprsi)">
<polyline points="-8.16,590.30 7.30,583.00 22.76,578.20 38.22,564.40 53.67,564.00 69.13,562.60 84.59,559.60 100.05,559.00 115.51,585.70 130.96,582.60 146.42,583.50 161.88,582.20 177.34,581.30 192.80,579.90 208.25,580.90 223.71,577.00 239.17,608.30 254.63,611.90 270.09,624.90 285.54,630.90 301.00,616.50 316.46,655.50 331.92,633.60 347.38,631.20 362.83,652.50 378.29,644.10 393.75,644.10 409.21,647.50 424.67,644.10 440.12,643.80 455.58,632.50 471.04,630.50 486.50,627.60 501.96,628.50 517.41,632.90 532.87,630.20 548.33,628.90 563.79,636.10 579.25,634.80 594.70,627.20 610.16,610.30 625.62,607.60 641.08,598.30 656.54,594.60 671.99,597.60 687.45,595.90 702.91,590.50 718.37,584.20 733.83,582.60 749.28,592.30 764.74,591.90 780.20,594.90 795.66,593.30 811.12,591.90 826.57,598.60 842.03,607.50 857.49,631.80 872.95,629.20 888.41,622.50 903.86,627.80 919.32,618.50 934.78,618.50 950.24,616.50 965.70,607.60 981.15,598.80 996.61,611.20 1012.07,611.20 1027.53,603.20 1042.99,605.90 1058.44,585.90 1073.90,585.50 1089.36,579.30 1104.82,577.00 1120.28,580.00 1135.73,586.30 1151.19,585.00 1166.65,584.00 1182.11,580.60 1197.57,586.60 1213.02,586.60 1228.48,584.00 1243.94,584.00 1259.40,597.90 1274.86,608.60 1290.31,596.20 1305.77,601.50 1321.23,602.80 1336.69,597.60 1352.15,625.20 1367.60,647.80 1383.06,633.80 1398.52,652.50 1413.98,638.50 1429.44,643.10 1444.89,631.60 1460.35,627.20 1475.81,625.20 1491.27,629.80 1506.73,623.60 1522.18,622.30 1537.64,622.50 1553.10,626.50 1568.56,617.90 1584.02,625.20 1599.47,631.20 1614.93,627.20 1630.39,631.80 1645.85,643.80 1661.31,626.30 1676.76,628.10 1692.22,631.80 1707.68,628.50 1723.14,623.20 1738.60,597.20 1754.05,596.20 1769.51,601.50 1784.97,601.50 1800.43,592.60 1815.89,586.60 1831.34,585.70 1846.80,584.90" fill="none" stroke="#9C56C2" stroke-width="2.4" stroke-linejoin="round" stroke-linecap="round"/>
</g>
<g shape-rendering="crispEdges">
<rect x="1" y="791" width="14" height="3" fill="#22AB94"/>
<rect x="17" y="790" width="13" height="4" fill="#22AB94"/>
<rect x="32" y="783" width="13" height="11" fill="#22AB94"/>
<rect x="47" y="780" width="14" height="14" fill="#22AB94"/>
<rect x="63" y="778" width="13" height="16" fill="#22AB94"/>
<rect x="78" y="776" width="14" height="18" fill="#22AB94"/>
<rect x="94" y="775" width="13" height="19" fill="#22AB94"/>
<rect x="109" y="779" width="14" height="15" fill="#ACE5DC"/>
<rect x="125" y="782" width="13" height="12" fill="#ACE5DC"/>
<rect x="140" y="785" width="14" height="9" fill="#ACE5DC"/>
<rect x="156" y="787" width="13" height="7" fill="#ACE5DC"/>
<rect x="171" y="789" width="14" height="5" fill="#ACE5DC"/>
<rect x="187" y="791" width="13" height="3" fill="#ACE5DC"/>
<rect x="202" y="792" width="13" height="2" fill="#FF5252"/>
<rect x="217" y="792" width="14" height="2" fill="#FF5252"/>
<rect x="233" y="792" width="13" height="6" fill="#FF5252"/>
<rect x="248" y="792" width="14" height="10" fill="#FF5252"/>
<rect x="264" y="792" width="13" height="14" fill="#FF5252"/>
<rect x="279" y="792" width="14" height="17" fill="#FF5252"/>
<rect x="295" y="792" width="13" height="16" fill="#FCCBCD"/>
<rect x="310" y="792" width="14" height="24" fill="#FF5252"/>
<rect x="326" y="792" width="13" height="22" fill="#FCCBCD"/>
<rect x="341" y="792" width="14" height="20" fill="#FCCBCD"/>
<rect x="357" y="792" width="13" height="25" fill="#FF5252"/>
<rect x="372" y="792" width="14" height="25" fill="#FCCBCD"/>
<rect x="388" y="792" width="13" height="23" fill="#FCCBCD"/>
<rect x="403" y="792" width="13" height="23" fill="#FCCBCD"/>
<rect x="418" y="792" width="14" height="21" fill="#FCCBCD"/>
<rect x="434" y="792" width="13" height="18" fill="#FCCBCD"/>
<rect x="449" y="792" width="14" height="13" fill="#FCCBCD"/>
<rect x="465" y="792" width="13" height="9" fill="#FCCBCD"/>
<rect x="480" y="792" width="14" height="5" fill="#FCCBCD"/>
<rect x="496" y="792" width="13" height="3" fill="#FCCBCD"/>
<rect x="511" y="792" width="14" height="2" fill="#FCCBCD"/>
<rect x="527" y="792" width="13" height="2" fill="#22AB94"/>
<rect x="542" y="792" width="14" height="2" fill="#22AB94"/>
<rect x="558" y="792" width="13" height="2" fill="#FF5252"/>
<rect x="573" y="792" width="13" height="2" fill="#FF5252"/>
<rect x="588" y="792" width="14" height="2" fill="#22AB94"/>
<rect x="604" y="787" width="13" height="7" fill="#22AB94"/>
<rect x="619" y="783" width="14" height="11" fill="#22AB94"/>
<rect x="635" y="778" width="13" height="16" fill="#22AB94"/>
<rect x="650" y="774" width="14" height="20" fill="#22AB94"/>
<rect x="666" y="774" width="13" height="20" fill="#22AB94"/>
<rect x="681" y="774" width="14" height="20" fill="#ACE5DC"/>
<rect x="697" y="773" width="13" height="21" fill="#22AB94"/>
<rect x="712" y="771" width="14" height="23" fill="#22AB94"/>
<rect x="728" y="770" width="13" height="24" fill="#22AB94"/>
<rect x="743" y="773" width="14" height="21" fill="#ACE5DC"/>
<rect x="759" y="776" width="13" height="18" fill="#ACE5DC"/>
<rect x="774" y="779" width="13" height="15" fill="#ACE5DC"/>
<rect x="789" y="782" width="14" height="12" fill="#ACE5DC"/>
<rect x="805" y="785" width="13" height="9" fill="#ACE5DC"/>
<rect x="820" y="788" width="14" height="6" fill="#ACE5DC"/>
<rect x="836" y="792" width="13" height="2" fill="#ACE5DC"/>
<rect x="851" y="792" width="14" height="8" fill="#FF5252"/>
<rect x="867" y="792" width="13" height="12" fill="#FF5252"/>
<rect x="882" y="792" width="14" height="13" fill="#FF5252"/>
<rect x="898" y="792" width="13" height="15" fill="#FF5252"/>
<rect x="913" y="792" width="14" height="13" fill="#FCCBCD"/>
<rect x="929" y="792" width="13" height="12" fill="#FCCBCD"/>
<rect x="944" y="792" width="13" height="11" fill="#FCCBCD"/>
<rect x="959" y="792" width="14" height="8" fill="#FCCBCD"/>
<rect x="975" y="792" width="13" height="4" fill="#FCCBCD"/>
<rect x="990" y="792" width="14" height="3" fill="#FCCBCD"/>
<rect x="1006" y="792" width="13" height="3" fill="#FCCBCD"/>
<rect x="1021" y="792" width="14" height="2" fill="#22AB94"/>
<rect x="1037" y="791" width="13" height="3" fill="#22AB94"/>
<rect x="1052" y="784" width="14" height="10" fill="#22AB94"/>
<rect x="1068" y="781" width="13" height="13" fill="#22AB94"/>
<rect x="1083" y="776" width="14" height="18" fill="#22AB94"/>
<rect x="1099" y="773" width="13" height="21" fill="#22AB94"/>
<rect x="1114" y="773" width="14" height="21" fill="#ACE5DC"/>
<rect x="1130" y="775" width="13" height="19" fill="#ACE5DC"/>
<rect x="1145" y="778" width="13" height="16" fill="#ACE5DC"/>
<rect x="1160" y="781" width="14" height="13" fill="#ACE5DC"/>
<rect x="1176" y="782" width="13" height="12" fill="#ACE5DC"/>
<rect x="1191" y="785" width="14" height="9" fill="#ACE5DC"/>
<rect x="1207" y="788" width="13" height="6" fill="#ACE5DC"/>
<rect x="1222" y="790" width="14" height="4" fill="#ACE5DC"/>
<rect x="1238" y="792" width="13" height="2" fill="#ACE5DC"/>
<rect x="1253" y="792" width="14" height="4" fill="#FF5252"/>
<rect x="1269" y="792" width="13" height="8" fill="#FF5252"/>
<rect x="1284" y="792" width="14" height="8" fill="#FCCBCD"/>
<rect x="1300" y="792" width="13" height="8" fill="#FF5252"/>
<rect x="1315" y="792" width="13" height="9" fill="#FF5252"/>
<rect x="1330" y="792" width="14" height="9" fill="#FCCBCD"/>
<rect x="1346" y="792" width="13" height="13" fill="#FF5252"/>
<rect x="1361" y="792" width="14" height="20" fill="#FF5252"/>
<rect x="1377" y="792" width="13" height="21" fill="#FF5252"/>
<rect x="1392" y="792" width="14" height="26" fill="#FF5252"/>
<rect x="1408" y="792" width="13" height="25" fill="#FCCBCD"/>
<rect x="1423" y="792" width="14" height="25" fill="#FCCBCD"/>
<rect x="1439" y="792" width="13" height="20" fill="#FCCBCD"/>
<rect x="1454" y="792" width="14" height="15" fill="#FCCBCD"/>
<rect x="1470" y="792" width="13" height="11" fill="#FCCBCD"/>
<rect x="1485" y="792" width="13" height="10" fill="#FCCBCD"/>
<rect x="1500" y="792" width="14" height="6" fill="#FCCBCD"/>
<rect x="1516" y="792" width="13" height="4" fill="#FCCBCD"/>
<rect x="1531" y="792" width="14" height="3" fill="#FCCBCD"/>
<rect x="1547" y="792" width="13" height="2" fill="#FF5252"/>
<rect x="1562" y="792" width="14" height="2" fill="#22AB94"/>
<rect x="1578" y="792" width="13" height="2" fill="#ACE5DC"/>
<rect x="1593" y="792" width="14" height="2" fill="#FF5252"/>
<rect x="1609" y="792" width="13" height="3" fill="#FF5252"/>
<rect x="1624" y="792" width="14" height="4" fill="#FF5252"/>
<rect x="1640" y="792" width="13" height="8" fill="#FF5252"/>
<rect x="1655" y="792" width="14" height="6" fill="#FCCBCD"/>
<rect x="1671" y="792" width="13" height="4" fill="#FCCBCD"/>
<rect x="1686" y="792" width="13" height="5" fill="#FF5252"/>
<rect x="1701" y="792" width="14" height="4" fill="#FCCBCD"/>
<rect x="1717" y="792" width="13" height="2" fill="#FCCBCD"/>
<rect x="1732" y="783" width="14" height="11" fill="#22AB94"/>
<rect x="1748" y="776" width="13" height="18" fill="#22AB94"/>
<rect x="1763" y="774" width="14" height="20" fill="#22AB94"/>
<rect x="1779" y="774" width="13" height="20" fill="#ACE5DC"/>
<rect x="1794" y="772" width="14" height="22" fill="#22AB94"/>
<rect x="1810" y="768" width="13" height="26" fill="#22AB94"/>
<rect x="1825" y="767" width="14" height="27" fill="#22AB94"/>
<rect x="1841" y="768" width="13" height="26" fill="#ACE5DC"/>
</g>
<g clip-path="url(#cpmacd)">
<polyline points="-8.16,747.50 7.30,747.20 22.76,745.90 38.22,742.60 53.67,738.80 69.13,734.60 84.59,730.30 100.05,726.60 115.51,723.90 130.96,721.70 146.42,719.70 161.88,718.40 177.34,717.70 192.80,717.30 208.25,717.30 223.71,717.70 239.17,718.80 254.63,721.30 270.09,723.90 285.54,727.90 301.00,732.60 316.46,738.60 331.92,743.20 347.38,747.60 362.83,752.50 378.29,757.90 393.75,763.60 409.21,769.20 424.67,773.80 440.12,777.80 455.58,781.20 471.04,783.30 486.50,784.50 501.96,784.70 517.41,784.70 532.87,784.70 548.33,784.50 563.79,784.50 579.25,784.70 594.70,784.50 610.16,783.10 625.62,780.20 641.08,776.50 656.54,771.80 671.99,767.20 687.45,762.50 702.91,758.20 718.37,752.50 733.83,746.60 749.28,741.90 764.74,737.90 780.20,735.30 795.66,733.00 811.12,730.90 826.57,729.30 842.03,728.60 857.49,729.50 872.95,731.90 888.41,734.90 903.86,738.60 919.32,742.10 934.78,745.20 950.24,747.20 965.70,749.00 981.15,749.50 996.61,749.90 1012.07,750.20 1027.53,750.20 1042.99,749.90 1058.44,747.90 1073.90,744.60 1089.36,739.60 1104.82,734.30 1120.28,729.50 1135.73,725.00 1151.19,722.60 1166.65,720.60 1182.11,718.00 1197.57,715.70 1213.02,714.40 1228.48,713.30 1243.94,713.00 1259.40,713.60 1274.86,715.30 1290.31,717.00 1305.77,718.90 1321.23,720.60 1336.69,722.60 1352.15,725.50 1367.60,730.60 1383.06,734.80 1398.52,740.60 1413.98,746.80 1429.44,753.20 1444.89,757.90 1460.35,760.90 1475.81,763.60 1491.27,765.50 1506.73,766.80 1522.18,767.60 1537.64,767.80 1553.10,768.10 1568.56,767.80 1584.02,767.80 1599.47,768.10 1614.93,768.30 1630.39,768.90 1645.85,770.50 1661.31,771.20 1676.76,771.80 1692.22,772.50 1707.68,773.40 1723.14,773.80 1738.60,771.60 1754.05,767.60 1769.51,762.50 1784.97,757.60 1800.43,752.60 1815.89,746.40 1831.34,740.10 1846.80,734.20" fill="none" stroke="#FF6D00" stroke-width="2.4" stroke-linejoin="round" stroke-linecap="round"/>
<polyline points="-8.16,745.90 7.30,745.00 22.76,742.80 38.22,732.60 53.67,727.30 69.13,721.30 84.59,714.90 100.05,710.90 115.51,710.90 130.96,710.90 146.42,712.00 161.88,712.90 177.34,714.40 192.80,715.70 208.25,717.00 223.71,718.40 239.17,721.30 254.63,728.60 270.09,734.90 285.54,743.90 301.00,746.60 316.46,759.90 331.92,763.60 347.38,765.90 362.83,775.80 378.29,781.80 393.75,786.50 409.21,791.50 424.67,793.80 440.12,795.10 455.58,793.10 471.04,790.50 486.50,788.50 501.96,786.50 517.41,785.40 532.87,784.50 548.33,783.10 563.79,784.50 579.25,785.40 594.70,783.50 610.16,777.20 625.62,771.20 641.08,761.90 656.54,753.90 671.99,749.20 687.45,745.00 702.91,739.00 718.37,731.30 733.83,724.60 749.28,722.00 764.74,720.90 780.20,720.90 795.66,721.30 811.12,722.00 826.57,724.60 842.03,729.00 857.49,737.30 872.95,743.60 888.41,747.90 903.86,752.50 919.32,753.90 934.78,755.60 950.24,756.90 965.70,755.60 981.15,751.60 996.61,751.60 1012.07,751.20 1027.53,749.00 1042.99,748.60 1058.44,739.60 1073.90,733.00 1089.36,723.90 1104.82,715.70 1120.28,711.30 1135.73,709.30 1151.19,708.20 1166.65,707.70 1182.11,706.40 1197.57,707.30 1213.02,709.00 1228.48,710.00 1243.94,711.70 1259.40,715.70 1274.86,722.60 1290.31,723.70 1305.77,725.90 1321.23,728.60 1336.69,729.90 1352.15,736.60 1367.60,748.60 1383.06,754.20 1398.52,766.50 1413.98,770.50 1429.44,776.10 1444.89,776.50 1460.35,775.20 1475.81,773.20 1491.27,773.80 1506.73,771.60 1522.18,769.80 1537.64,769.20 1553.10,769.40 1568.56,766.80 1584.02,767.20 1599.47,769.80 1614.93,770.40 1630.39,771.80 1645.85,776.90 1661.31,775.60 1676.76,775.60 1692.22,776.50 1707.68,776.50 1723.14,774.80 1738.60,761.30 1754.05,751.10 1769.51,744.10 1784.97,739.80 1800.43,732.40 1815.89,722.20 1831.34,714.70 1846.80,709.30" fill="none" stroke="#2196F3" stroke-width="2.4" stroke-linejoin="round" stroke-linecap="round"/>
</g>
<rect x="2" y="543" width="2156" height="2" fill="#E0E3EB"/>
<rect x="2" y="691" width="2156" height="2" fill="#E0E3EB"/>
<rect x="0" y="0" width="2160" height="2" fill="#EEF0F4"/>
<rect x="0" y="900" width="2160" height="2" fill="#EEF0F4"/>
<rect x="0" y="0" width="2" height="902" fill="#EEF0F4"/>
<rect x="2158" y="0" width="2" height="902" fill="#EEF0F4"/>
<path d="M2009,38 H2145 a4,4 0 0 1 4,4 V78 a4,4 0 0 1 -4,4 H2009 Z" fill="#089981"/>
<text x="2029.37" y="70.90" fill="#FFFFFF" font-size="29.8" font-weight="400" textLength="105.72" lengthAdjust="spacingAndGlyphs">5239.60</text>
<path d="M2009,563 H2113 a4,4 0 0 1 4,4 V603 a4,4 0 0 1 -4,4 H2009 Z" fill="#9C56C2"/>
<text x="2028.02" y="596.00" fill="#FFFFFF" font-size="29.8" font-weight="400" textLength="71.45" lengthAdjust="spacingAndGlyphs">77.11</text>
<defs><clipPath id="cpax"><rect x="2009" y="693" width="149" height="137"/></clipPath></defs>
<text x="2028.86" y="803.70" fill="#131722" font-size="29.8" font-weight="400" textLength="58.91" lengthAdjust="spacingAndGlyphs">0.00</text>
<g clip-path="url(#cpax)">
<path d="M2009,659 H2113 a4,4 0 0 1 4,4 V699 a4,4 0 0 1 -4,4 H2009 Z" fill="#2196F3"/>
<text x="2029.88" y="694.00" fill="#FFFFFF" font-size="29.8" font-weight="400" textLength="74.17" lengthAdjust="spacingAndGlyphs">42.87</text>
</g>
<path d="M2009,703 H2113 a4,4 0 0 1 4,4 V743 a4,4 0 0 1 -4,4 H2009 Z" fill="#FF6D00"/>
<text x="2029.38" y="735.50" fill="#FFFFFF" font-size="29.8" font-weight="400" textLength="74.04" lengthAdjust="spacingAndGlyphs">30.04</text>
<path d="M2009,747 H2113 a4,4 0 0 1 4,4 V786 a4,4 0 0 1 -4,4 H2009 Z" fill="#ACE5DC"/>
<text x="2029.38" y="778.70" fill="#131722" font-size="29.8" font-weight="400" textLength="73.42" lengthAdjust="spacingAndGlyphs">12.83</text>
<text x="20.53" y="48.80" fill="#131722" font-size="29.8" font-weight="400" textLength="561.54" lengthAdjust="spacingAndGlyphs">Gold US Dollars per Ounce Spot Prices, 1h</text>
<text x="599.77" y="48.80" fill="#131722" font-size="29.8" font-weight="400" textLength="20.83" lengthAdjust="spacingAndGlyphs">O</text>
<text x="620.99" y="48.80" fill="#089981" font-size="29.8" font-weight="400" textLength="104.54" lengthAdjust="spacingAndGlyphs">5234.92</text>
<text x="743.10" y="48.80" fill="#131722" font-size="29.8" font-weight="400" textLength="21.50" lengthAdjust="spacingAndGlyphs">H</text>
<text x="763.78" y="48.80" fill="#089981" font-size="29.8" font-weight="400" textLength="105.34" lengthAdjust="spacingAndGlyphs">5240.96</text>
<text x="886.81" y="48.80" fill="#131722" font-size="29.8" font-weight="400" textLength="15.16" lengthAdjust="spacingAndGlyphs">L</text>
<text x="902.68" y="48.80" fill="#089981" font-size="29.8" font-weight="400" textLength="105.34" lengthAdjust="spacingAndGlyphs">5233.98</text>
<text x="1025.25" y="48.80" fill="#131722" font-size="29.8" font-weight="400" textLength="17.91" lengthAdjust="spacingAndGlyphs">C</text>
<text x="1043.78" y="48.80" fill="#089981" font-size="29.8" font-weight="400" textLength="105.21" lengthAdjust="spacingAndGlyphs">5239.60</text>
<text x="1167.65" y="48.80" fill="#089981" font-size="29.8" font-weight="400" textLength="72.99" lengthAdjust="spacingAndGlyphs">+4.48</text>
<text x="1250.66" y="48.80" fill="#089981" font-size="29.8" font-weight="400" textLength="112.76" lengthAdjust="spacingAndGlyphs">(+0.09%)</text>
<text x="2029.58" y="24.70" fill="#131722" font-size="29.8" font-weight="400" textLength="105.52" lengthAdjust="spacingAndGlyphs">5300.00</text>
<text x="2029.58" y="100.50" fill="#131722" font-size="29.8" font-weight="400" textLength="105.52" lengthAdjust="spacingAndGlyphs">5200.00</text>
<text x="2029.58" y="176.90" fill="#131722" font-size="29.8" font-weight="400" textLength="105.52" lengthAdjust="spacingAndGlyphs">5100.00</text>
<text x="2029.58" y="251.60" fill="#131722" font-size="29.8" font-weight="400" textLength="105.52" lengthAdjust="spacingAndGlyphs">5000.00</text>
<text x="2028.58" y="327.80" fill="#131722" font-size="29.8" font-weight="400" textLength="106.52" lengthAdjust="spacingAndGlyphs">4900.00</text>
<text x="2028.58" y="403.90" fill="#131722" font-size="29.8" font-weight="400" textLength="106.52" lengthAdjust="spacingAndGlyphs">4800.00</text>
<text x="2028.58" y="478.90" fill="#131722" font-size="29.8" font-weight="400" textLength="106.52" lengthAdjust="spacingAndGlyphs">4700.00</text>
<text x="20.99" y="592.70" fill="#131722" font-size="29.8" font-weight="400" textLength="102.60" lengthAdjust="spacingAndGlyphs">RSI (14)</text>
<text x="141.86" y="592.70" fill="#9C56C2" font-size="29.8" font-weight="400" textLength="69.47" lengthAdjust="spacingAndGlyphs">77.11</text>
<text x="2028.37" y="668.70" fill="#131722" font-size="29.8" font-weight="400" textLength="75.04" lengthAdjust="spacingAndGlyphs">40.00</text>
<text x="19.22" y="740.10" fill="#131722" font-size="29.8" font-weight="400" textLength="315.39" lengthAdjust="spacingAndGlyphs">MACD (12, 26, close, 9)</text>
<text x="352.89" y="740.10" fill="#ACE5DC" font-size="29.8" font-weight="400" textLength="73.32" lengthAdjust="spacingAndGlyphs">12.83</text>
<text x="444.27" y="740.10" fill="#2196F3" font-size="29.8" font-weight="400" textLength="75.09" lengthAdjust="spacingAndGlyphs">42.87</text>
<text x="537.39" y="740.10" fill="#FF6D00" font-size="29.8" font-weight="400" textLength="73.53" lengthAdjust="spacingAndGlyphs">30.04</text>
<text x="5.62" y="876.80" fill="#131722" stroke="#131722" stroke-width="0.9" font-size="30.0" font-weight="400" textLength="32.96" lengthAdjust="spacingAndGlyphs">21</text>
<text x="361.04" y="876.80" fill="#131722" stroke="#131722" stroke-width="0.9" font-size="30.0" font-weight="400" textLength="34.72" lengthAdjust="spacingAndGlyphs">22</text>
<text x="716.47" y="876.80" fill="#131722" stroke="#131722" stroke-width="0.9" font-size="30.0" font-weight="400" textLength="34.03" lengthAdjust="spacingAndGlyphs">23</text>
<text x="1041.08" y="876.80" fill="#131722" stroke="#131722" stroke-width="0.9" font-size="30.0" font-weight="400" textLength="33.89" lengthAdjust="spacingAndGlyphs">25</text>
<text x="1412.47" y="876.80" fill="#131722" stroke="#131722" stroke-width="0.9" font-size="30.0" font-weight="400" textLength="34.06" lengthAdjust="spacingAndGlyphs">27</text>
<text x="1767.15" y="876.80" fill="#131722" stroke="#131722" stroke-width="0.9" font-size="30.0" font-weight="400" textLength="34.44" lengthAdjust="spacingAndGlyphs">28</text>
</svg>
</body></html>
